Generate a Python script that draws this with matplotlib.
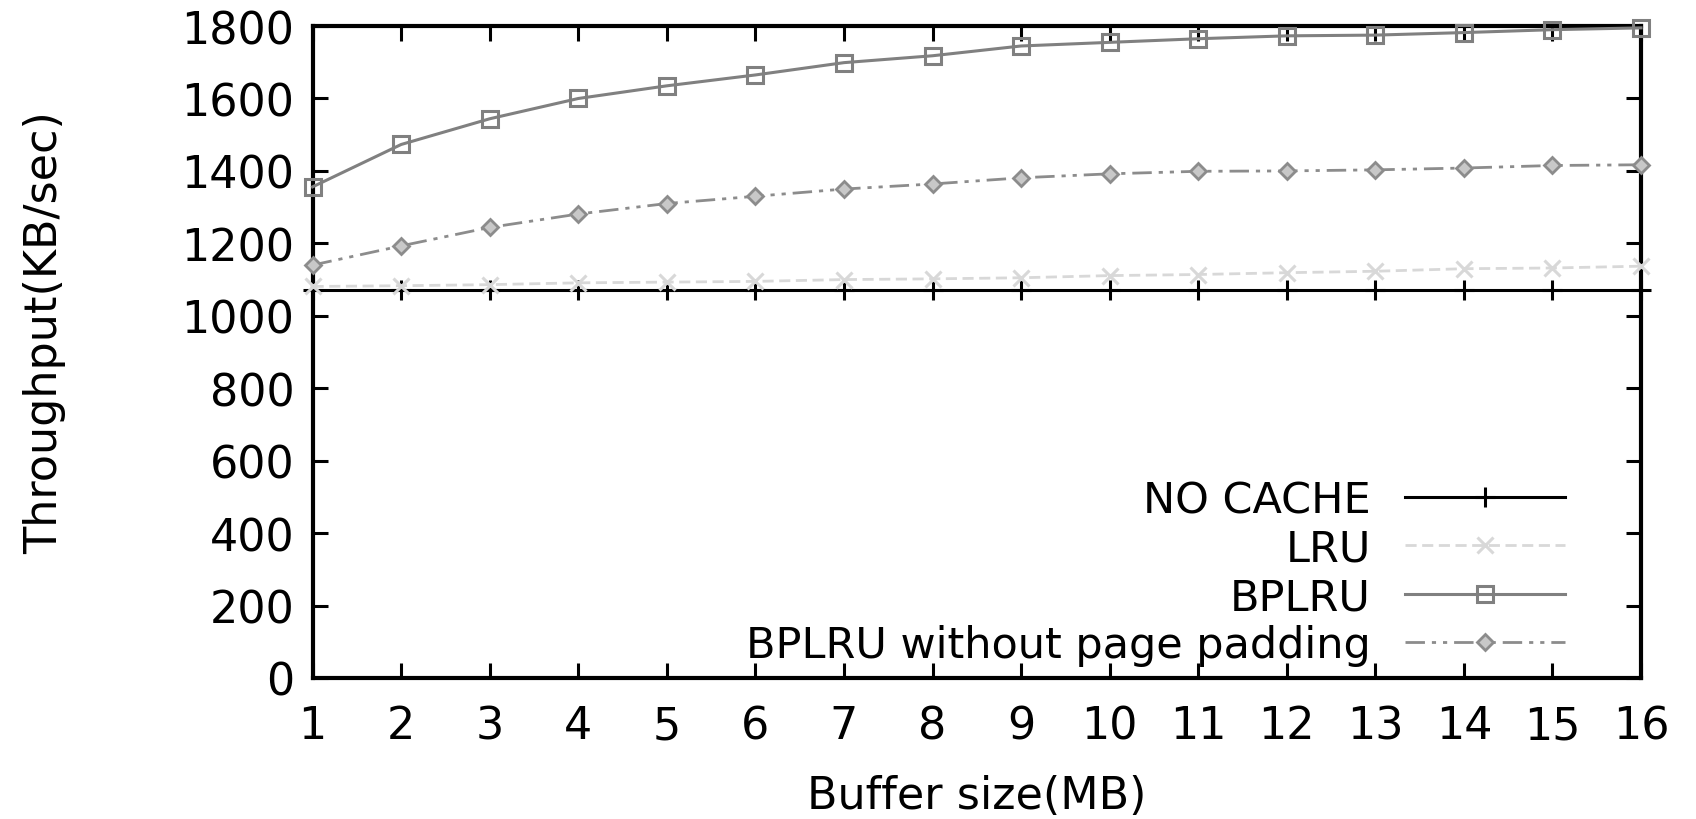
import matplotlib
matplotlib.use("Agg")
import matplotlib.pyplot as plt

# buffer size (MB)
buffer_mb = list(range(1, 17))

# throughput (KB/sec)
no_cache = [1072] * 16
lru = [1081, 1083, 1086, 1091, 1093, 1095, 1100, 1102, 1105, 1111, 1114, 1119, 1123, 1130, 1132, 1137]
bplru = [1356, 1473, 1544, 1600, 1635, 1665, 1699, 1718, 1745, 1755, 1765, 1773, 1775, 1782, 1790, 1795]
bplru_nopad = [1140, 1193, 1244, 1281, 1310, 1330, 1350, 1364, 1381, 1392, 1399, 1400, 1403, 1408, 1415, 1417]

y_ticks = list(range(0, 1801, 200))

plt.rcParams['font.family'] = ['DejaVu Sans']

fig = plt.figure(figsize=(16.96, 8.2), dpi=100)
ax = fig.add_axes([0.1843, 0.172, 0.7833, 0.795])

ax.plot(buffer_mb, no_cache, color='black', lw=2.2, marker='+', ms=14, mew=2.2,
        label='NO CACHE', clip_on=False, zorder=3)
ax.plot(buffer_mb, lru, color='#d8d8d8', lw=2.0, ls=(0, (4, 2)), marker='x', ms=11, mew=2.2,
        label='LRU', clip_on=False, zorder=4)
ax.plot(buffer_mb, bplru, color='#808080', lw=2.2, marker='s', ms=12, mfc='none', mew=2.2,
        label='BPLRU', clip_on=False, zorder=5)
ax.plot(buffer_mb, bplru_nopad, color='#8c8c8c', lw=2.0, ls=(0, (7, 2.5, 1.5, 2.5, 1.5, 2.5)),
        marker='D', ms=8, mfc='#c8c8c8', mew=2.0,
        label='BPLRU without page padding', clip_on=False, zorder=4)

ax.set_xlim(1, 16)
ax.set_ylim(0, 1800)
ax.set_xticks(buffer_mb)
ax.set_yticks(y_ticks)

for s in ax.spines.values():
    s.set_linewidth(3)
ax.tick_params(axis='both', direction='in', top=True, right=True, length=11, width=2.2,
               labelsize=32)
ax.tick_params(axis='y', pad=13)
ax.tick_params(axis='x', pad=19)

ax.set_xlabel('Buffer size(MB)', fontsize=32, va='center')
ax.xaxis.set_label_coords(0.5, -0.18)
ax.set_ylabel('Throughput(KB/sec)', fontsize=32, va='center')
ax.yaxis.set_label_coords(-0.2015, 0.532)

ax.legend(loc='lower right', bbox_to_anchor=(0.962, -0.022), frameon=False, markerfirst=False,
          fontsize=31, handlelength=3.7, handletextpad=0.8, labelspacing=0.15,
          borderaxespad=0.2)

fig.savefig('out.png', dpi=100)
